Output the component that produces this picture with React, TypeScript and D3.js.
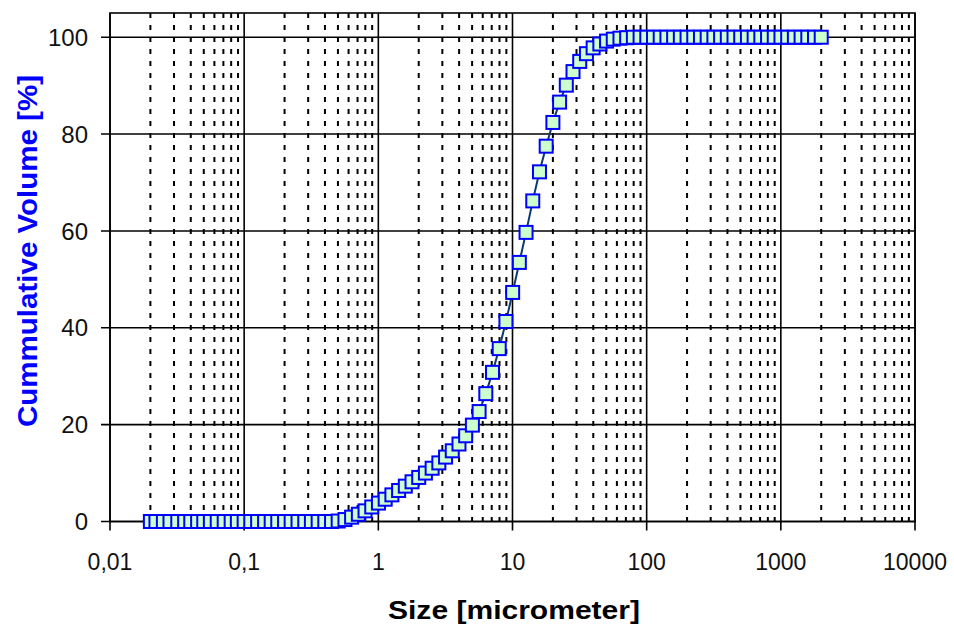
import React from "react";
import * as d3 from "d3";

// size classes [micrometer] and cumulative volume [%]
const sizes = [
  0.02, 0.022, 0.025, 0.028, 0.032, 0.036, 0.04, 0.045, 0.05, 0.056,
  0.063, 0.071, 0.08, 0.089, 0.1, 0.112, 0.126, 0.142, 0.159, 0.178,
  0.2, 0.224, 0.252, 0.283, 0.317, 0.356, 0.399, 0.448, 0.502, 0.564,
  0.632, 0.71, 0.796, 0.893, 1.002, 1.125, 1.262, 1.416, 1.589, 1.783,
  2.0, 2.244, 2.518, 2.825, 3.17, 3.557, 3.991, 4.477, 5.024, 5.637,
  6.325, 7.096, 7.962, 8.934, 10.024, 11.247, 12.619, 14.159, 15.887, 17.825,
  20.0, 22.44, 25.179, 28.251, 31.698, 35.566, 39.905, 44.774, 50.238, 56.368,
  63.246, 70.963, 79.621, 89.337, 100.237, 112.468, 126.191, 141.589, 158.866, 178.25,
  200.0, 224.404, 251.785, 282.508, 316.979, 355.656, 399.052, 447.744, 502.377, 563.677,
  632.456, 709.627, 796.214, 893.367, 1002.374, 1124.683, 1261.915, 1415.892, 1588.656, 1782.502,
  2000.0,
];

const cumVolume = [
  0, 0, 0, 0, 0, 0, 0, 0, 0, 0,
  0, 0, 0, 0, 0, 0, 0, 0, 0, 0,
  0, 0, 0, 0, 0, 0, 0, 0, 0.1, 0.4,
  0.9, 1.5, 2.2, 3.0, 3.8, 4.6, 5.5, 6.4, 7.3, 8.2,
  9.1, 10.0, 11.0, 12.1, 13.3, 14.6, 16.0, 17.7, 19.9, 22.7,
  26.4, 30.8, 35.7, 41.3, 47.3, 53.5, 59.7, 66.2, 72.2, 77.5,
  82.4, 86.6, 90.1, 92.9, 95.0, 96.6, 97.8, 98.6, 99.2, 99.6,
  99.8, 99.9, 100, 100, 100, 100, 100, 100, 100, 100,
  100, 100, 100, 100, 100, 100, 100, 100, 100, 100,
  100, 100, 100, 100, 100, 100, 100, 100, 100, 100,
  100,
];

const xTicks = [0.01, 0.1, 1, 10, 100, 1000, 10000];
const xTickLabels = ["0,01", "0,1", "1", "10", "100", "1000", "10000"];
const yTicks = [0, 20, 40, 60, 80, 100];

const W = 954;
const H = 635;
const left = 110;
const right = 915;
const top = 13;
const bottom = 521.5;

export default function App() {
  const x = d3.scaleLog().domain([0.01, 10000]).range([left, right]);
  const y = d3.scaleLinear().domain([0, 105]).range([bottom, top]);

  // minor decade lines 2..9
  const minor: number[] = [];
  for (let e = -2; e < 4; e++) {
    for (let k = 2; k <= 9; k++) minor.push(k * Math.pow(10, e));
  }

  const pts = sizes.map((s, i) => [x(s), y(cumVolume[i])] as [number, number]);
  const line = d3.line()(pts) || "";
  const font = "Arial, 'Liberation Sans', sans-serif";

  return (
    <svg
      width={W}
      height={H}
      style={{ position: "absolute", left: 0, top: 0, background: "#fff" }}
      fontFamily={font}
    >
      <rect x={0} y={0} width={W} height={H} fill="#fff" />
      {minor.map((m, i) => (
        <line
          key={"m" + i}
          x1={x(m)}
          x2={x(m)}
          y1={top}
          y2={bottom}
          stroke="#000"
          strokeWidth={2}
          strokeDasharray="5 7"
        />
      ))}
      {xTicks.map((t, i) => (
        <line key={"vx" + i} x1={x(t)} x2={x(t)} y1={top} y2={bottom + 9} stroke="#000" strokeWidth={1.6} />
      ))}
      {yTicks.map((t, i) => (
        <line key={"hy" + i} x1={left - 9} x2={right} y1={y(t)} y2={y(t)} stroke="#000" strokeWidth={1.6} />
      ))}
      <rect x={left} y={top} width={right - left} height={bottom - top} fill="none" stroke="#000" strokeWidth={1.6} />

      {yTicks.map((t, i) => (
        <text key={"yl" + i} x={88} y={y(t)} dy="0.36em" textAnchor="end" fontSize={24} fill="#111">
          {t}
        </text>
      ))}
      {xTicks.map((t, i) => (
        <text key={"xl" + i} x={x(t)} y={570} textAnchor="middle" fontSize={23} fill="#111">
          {xTickLabels[i]}
        </text>
      ))}

      <path d={line} fill="none" stroke="#0b3a6e" strokeWidth={2} />
      {pts.map(([px, py], i) => (
        <rect
          key={"p" + i}
          x={px - 6.5}
          y={py - 6.5}
          width={13}
          height={13}
          fill="#ccffcc"
          stroke="#0000ff"
          strokeWidth={2}
        />
      ))}

      <text
        x={514}
        y={619}
        textAnchor="middle"
        fontSize={26}
        fontWeight="bold"
        fill="#000"
        textLength={252}
        lengthAdjust="spacingAndGlyphs"
      >
        Size [micrometer]
      </text>
      <text
        transform="translate(37,251) rotate(-90)"
        textAnchor="middle"
        fontSize={27}
        fontWeight="bold"
        fill="#0000ff"
        textLength={352}
        lengthAdjust="spacingAndGlyphs"
      >
        Cummulative Volume [%]
      </text>
    </svg>
  );
}
